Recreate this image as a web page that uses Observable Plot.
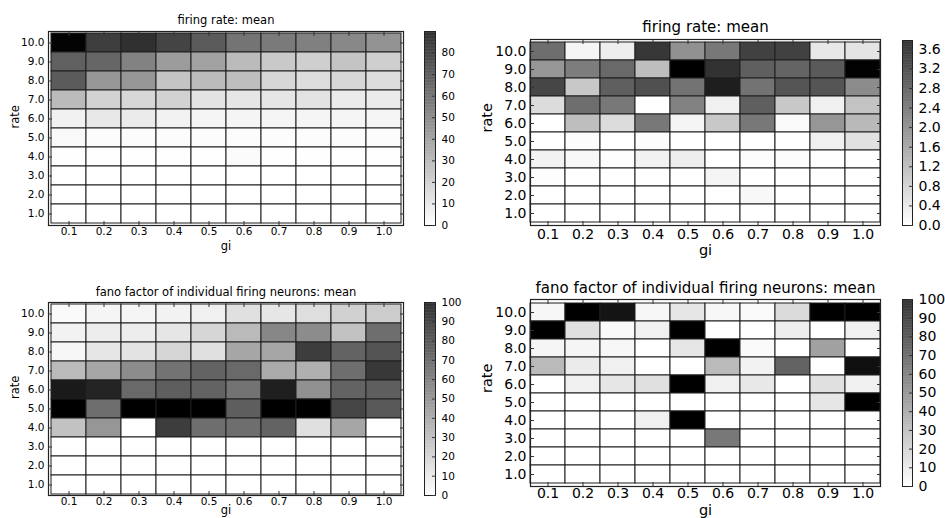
<!DOCTYPE html>
<html>
<head>
<meta charset="utf-8">
<script src="https://cdn.jsdelivr.net/npm/d3@7"></script>
<script src="https://cdn.jsdelivr.net/npm/@observablehq/plot@0.6"></script>
<style>
  html, body { margin: 0; padding: 0; background: #fff; }
  #root { position: relative; width: 945px; height: 518px; overflow: hidden; background: #fff; }
  #root > svg { position: absolute; }
</style>
</head>
<body>
<div id="root"></div>
<script>
// ---- data ----
const giLabels = ["0.1","0.2","0.3","0.4","0.5","0.6","0.7","0.8","0.9","1.0"];
const rateLabels = ["10.0","9.0","8.0","7.0","6.0","5.0","4.0","3.0","2.0","1.0"]; // top to bottom

// rows ordered rate 10 -> 1, columns gi 0.1 -> 1.0
const rateMeanA = [
  [89, 68, 73, 66, 58, 49, 47, 45, 42, 38],
  [56, 54, 44, 35, 33, 24, 19, 17, 21, 17],
  [58, 37, 37, 21, 24, 23, 14, 12, 14, 12],
  [24, 16, 14, 16, 10, 9, 9, 10, 7, 7],
  [5, 8, 7, 4.5, 3.5, 3.5, 3.5, 3.5, 3.5, 3.5],
  [2, 1, 1, 1, 1, 1, 1, 1, 1, 1],
  [0.3, 0.3, 0.3, 0.3, 0.3, 1.5, 0.3, 0.3, 0.3, 0.3],
  [0, 0, 0, 0, 0, 0, 0, 0, 0, 0],
  [0, 0, 0, 0, 0, 0, 0, 0, 0, 0],
  [0, 0, 0, 0, 0, 0, 0, 0, 0, 0]
];
const rateMeanB = [
  [2.15, 0.15, 0.25, 2.96, 1.63, 2.0, 2.82, 2.82, 0.34, 0.4],
  [1.56, 1.93, 2.22, 0.96, 3.78, 3.04, 2.37, 2.3, 2.45, 3.75],
  [2.74, 0.82, 2.37, 2.6, 2.08, 3.34, 2.08, 2.52, 2.52, 1.7],
  [0.52, 2.15, 2.0, 0, 1.85, 0.22, 2.37, 0.82, 0.22, 0.89],
  [0, 0.96, 0.52, 2.0, 0.15, 0.82, 2.0, 0.07, 1.56, 1.04],
  [0, 0.04, 0, 0.04, 0, 0, 0, 0, 0.22, 0.44],
  [0.19, 0.1, 0.03, 0.19, 0.25, 0, 0.05, 0.05, 0, 0],
  [0.03, 0, 0, 0, 0, 0.15, 0, 0, 0, 0],
  [0, 0, 0, 0, 0, 0, 0.1, 0, 0, 0],
  [0, 0, 0, 0, 0, 0, 0, 0, 0, 0]
];
const fanoMeanA = [
  [2, 4, 4, 5, 6, 12, 10, 13, 18, 20],
  [5, 7, 7, 10, 16, 27, 47, 45, 24, 57],
  [3, 10, 11, 16, 12, 35, 35, 76, 61, 67],
  [27, 35, 45, 55, 61, 59, 33, 31, 57, 78],
  [90, 86, 59, 63, 61, 55, 88, 43, 61, 63],
  [100, 57, 100, 100, 100, 63, 100, 100, 73, 65],
  [24, 41, 0, 76, 57, 57, 61, 12, 35, 0],
  [0, 0, 0, 0, 0, 0, 0, 0, 0, 0],
  [0, 0, 0, 0, 0, 0, 0, 0, 0, 0],
  [0, 0, 0, 0, 0, 0, 0, 0, 0, 0]
];
const fanoMeanB = [
  [3, 100, 92, 3, 10, 3, 2, 14, 100, 100],
  [100, 12, 2, 6, 100, 0, 0, 7, 0, 6],
  [4, 4, 3, 0, 10, 100, 2, 0, 37, 0],
  [27, 8, 6, 0, 0, 27, 5, 61, 0, 94],
  [0, 6, 10, 12, 100, 6, 9, 0, 12, 6],
  [0, 0, 0, 0, 0, 0, 0, 0, 10, 100],
  [0, 0, 0, 6, 100, 0, 0, 0, 0, 0],
  [0, 0, 0, 0, 0, 53, 0, 0, 0, 0],
  [0, 0, 0, 0, 0, 0, 0, 0, 0, 0],
  [0, 0, 0, 0, 0, 0, 0, 0, 0, 0]
];

const titles = ["firing rate: mean", "firing rate: mean",
  "fano factor of individual firing neurons: mean", "fano factor of individual firing neurons: mean"];
const colorMax = [90, 3.78, 100, 100];
const cbTicksA = [0, 10, 20, 30, 40, 50, 60, 70, 80];
const cbTicksB = [0, 0.4, 0.8, 1.2, 1.6, 2.0, 2.4, 2.8, 3.2, 3.6];
const cbTicksC = [0, 10, 20, 30, 40, 50, 60, 70, 80, 90, 100];

// ---- helpers ----
const FONT = "DejaVu Sans, Bitstream Vera Sans, sans-serif";
const root = document.getElementById("root");

function toTable(matrix) {
  const out = [];
  matrix.forEach((row, i) => row.forEach((v, j) => out.push({gi: giLabels[j], rate: rateLabels[i], v})));
  return out;
}

function colorScale(max) {
  return {type: "linear", domain: [0, max], range: ["#ffffff", "#000000"], interpolate: d3.interpolateRgb, clamp: true};
}

function place(svg, left, top) {
  svg.style.left = left + "px";
  svg.style.top = top + "px";
  root.appendChild(svg);
}

function heatmap(cfg) {
  const {matrix, max, title, left, top, width, height, m, fs, tfs, lfs, xPad, yPad, rateDx, giDy, titleDy} = cfg;
  const svg = Plot.plot({
    width, height,
    marginTop: m[0], marginRight: m[1], marginBottom: m[2], marginLeft: m[3],
    style: {fontFamily: FONT, fontSize: fs + "px", color: "#000", background: "transparent", overflow: "visible"},
    x: {type: "band", domain: giLabels, padding: 0, axis: null},
    y: {type: "band", domain: rateLabels, padding: 0, axis: null},
    color: colorScale(max),
    marks: [
      Plot.cell(toTable(matrix), {x: "gi", y: "rate", fill: "v", stroke: "#1e1e1e", strokeWidth: 1, inset: 0}),
      Plot.frame({stroke: "#222", strokeWidth: 1.2}),
      // tick labels
      Plot.axisX({anchor: "bottom", tickSize: 0, tickPadding: xPad, label: null, fontSize: fs}),
      Plot.axisY({anchor: "left", tickSize: 0, tickPadding: yPad, label: null, fontSize: fs}),
      // inward tick marks
      Plot.axisX({anchor: "bottom", tickSize: 4, dy: -4, tickFormat: () => "", label: null, stroke: "#333"}),
      Plot.axisX({anchor: "top", tickSize: 4, dy: 4, tickFormat: () => "", label: null, stroke: "#333"}),
      Plot.axisY({anchor: "left", tickSize: 4, dx: 4, tickFormat: () => "", label: null, stroke: "#333"}),
      Plot.axisY({anchor: "right", tickSize: 4, dx: -4, tickFormat: () => "", label: null, stroke: "#333"}),
      // titles and axis labels
      Plot.text([title], {frameAnchor: "top", lineAnchor: "middle", dy: titleDy, fontSize: tfs, fill: "#000"}),
      Plot.text(["gi"], {frameAnchor: "bottom", lineAnchor: "middle", dy: giDy, fontSize: lfs, fill: "#000"}),
      Plot.text(["rate"], {frameAnchor: "left", lineAnchor: "middle", dx: rateDx, rotate: -90, fontSize: lfs, fill: "#000"})
    ]
  });
  place(svg, left, top);
}

function colorbar(cfg) {
  const {max, ticks, fmt, left, top, width, height, m, fs} = cfg;
  const steps = d3.range(0, 256).map(i => ({a: max * i / 256, b: max * (i + 1) / 256}));
  const svg = Plot.plot({
    width, height,
    marginTop: m[0], marginRight: m[1], marginBottom: m[2], marginLeft: m[3],
    style: {fontFamily: FONT, fontSize: fs + "px", color: "#000", background: "transparent", overflow: "visible"},
    x: {axis: null},
    y: {domain: [0, max], axis: null},
    color: colorScale(max),
    marks: [
      Plot.rect(steps, {y1: "a", y2: "b", fill: d => (d.a + d.b) / 2}),
      Plot.frame({stroke: "#222", strokeWidth: 1}),
      Plot.axisY({anchor: "right", ticks, tickFormat: fmt, tickSize: 4, dx: -4, tickPadding: 6, label: null, fontSize: fs, stroke: "#333"})
    ]
  });
  place(svg, left, top);
}

// ---- panels ----
const f0 = d3.format("d");
const f1 = d3.format(".1f");

heatmap({matrix: rateMeanA, max: colorMax[0], title: titles[0], left: 0, top: 0, width: 420, height: 260,
  m: [31, 17, 35, 48], fs: 10.5, tfs: 11.5, lfs: 11.5, xPad: 2, yPad: 4, rateDx: -33, giDy: 21, titleDy: -11});
colorbar({max: colorMax[0], ticks: cbTicksA, fmt: f0, left: 424, top: 0, width: 44, height: 260,
  m: [31, 33, 35, 0], fs: 10.5});

heatmap({matrix: rateMeanB, max: colorMax[1], title: titles[1], left: 470, top: 0, width: 420, height: 260,
  m: [39, 10, 35, 60], fs: 14, tfs: 15, lfs: 14.5, xPad: 4, yPad: 4, rateDx: -43, giDy: 25, titleDy: -12});
colorbar({max: colorMax[1], ticks: cbTicksB, fmt: f1, left: 902, top: 0, width: 43, height: 260,
  m: [40, 33, 35, 0], fs: 14});

heatmap({matrix: fanoMeanA, max: colorMax[2], title: titles[2], left: 0, top: 260, width: 420, height: 258,
  m: [42, 17, 23, 48], fs: 10.5, tfs: 11.5, lfs: 11.5, xPad: 2, yPad: 4, rateDx: -33, giDy: 15, titleDy: -10});
colorbar({max: colorMax[2], ticks: cbTicksC, fmt: f0, left: 424, top: 260, width: 44, height: 258,
  m: [42, 33, 23, 0], fs: 10.5});

heatmap({matrix: fanoMeanB, max: colorMax[3], title: titles[3], left: 470, top: 260, width: 420, height: 258,
  m: [39, 10, 32, 60], fs: 14, tfs: 15, lfs: 14.5, xPad: 2, yPad: 4, rateDx: -43, giDy: 24, titleDy: -11});
colorbar({max: colorMax[3], ticks: cbTicksC, fmt: f0, left: 902, top: 260, width: 43, height: 258,
  m: [39, 33, 32, 0], fs: 14});
</script>
</body>
</html>
